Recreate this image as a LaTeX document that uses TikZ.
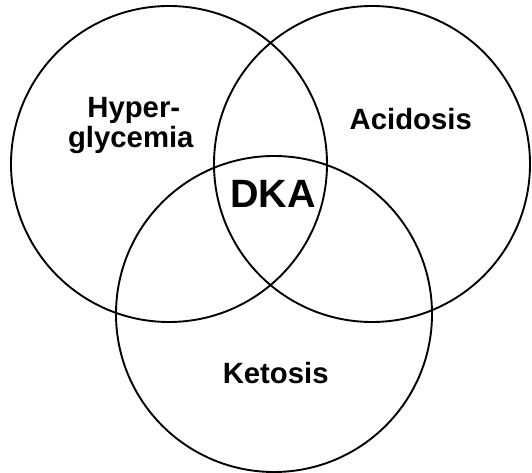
\documentclass[tikz,border=0pt]{standalone}
\usepackage{fontspec}
\setmainfont{Liberation Sans}
\begin{document}
\begin{tikzpicture}[x=1pt,y=1pt,
  venn/.style={draw=black,line width=1.9pt},
  lbl/.style={anchor=base,inner sep=0pt,font=\bfseries\fontsize{29.3}{31}\selectfont},
  big/.style={anchor=base,inner sep=0pt,font=\bfseries\fontsize{39.5}{41}\selectfont}]
\useasboundingbox (0,0) rectangle (532,473);
\draw[venn] (169,309) circle (158);
\draw[venn] (372,309) circle (158);
\draw[venn] (274,159) circle (158);
\node[lbl] (hyper) at (133.8,355.7) {Hyper-};
\node[lbl] (glyc) at (130.8,325.3) {glycemia};
\node[lbl] (acid) at (410.8,343.7) {Acidosis};
\node[big] (dka) at (273,265.7) {DKA};
\node[lbl] (keto) at (275.7,89.7) {Ketosis};
\end{tikzpicture}
\end{document}
